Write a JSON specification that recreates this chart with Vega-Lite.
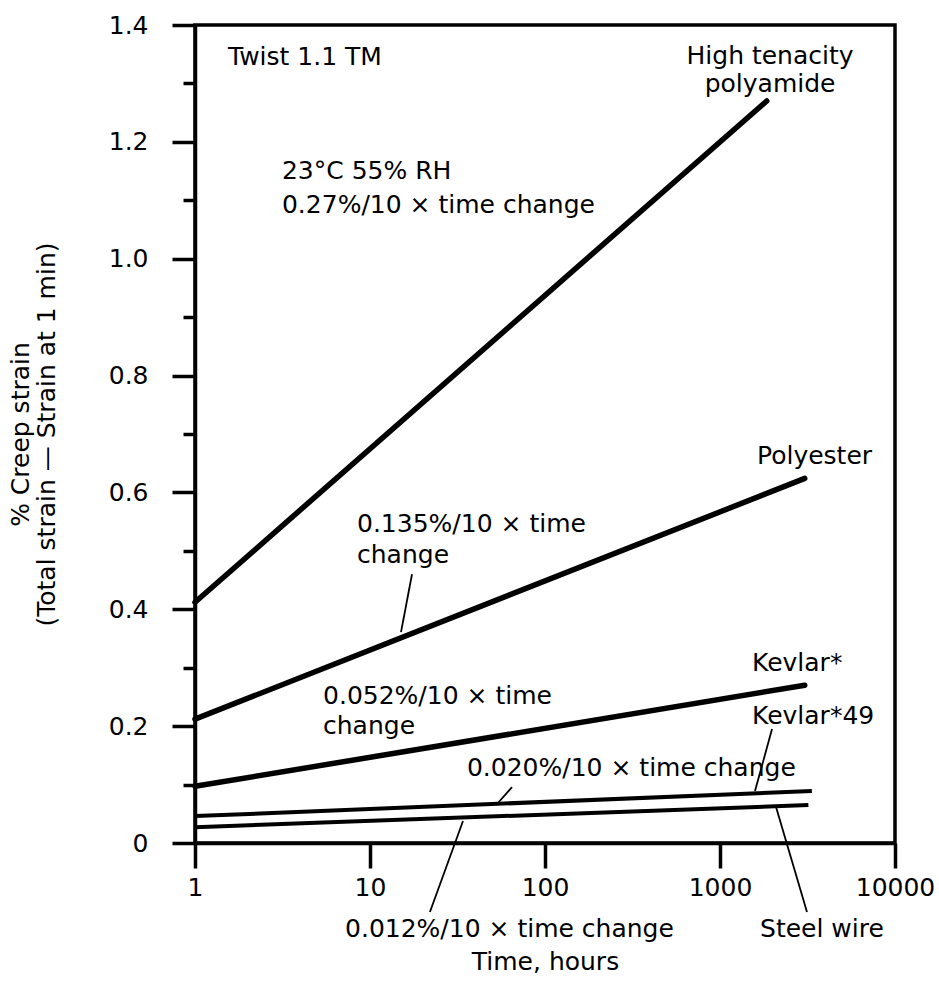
{
  "$schema": "https://vega.github.io/schema/vega-lite/v6.json",
  "width": 700,
  "height": 818,
  "autosize": {"type": "none"},
  "padding": {"left": 195, "top": 25, "right": 44, "bottom": 143},
  "background": "white",
  "config": {
    "view": {"stroke": "black", "strokeWidth": 3.5},
    "font": "DejaVu Sans",
    "axis": {
      "grid": false,
      "domainColor": "black",
      "domainWidth": 3.5,
      "tickColor": "black",
      "tickWidth": 3.5,
      "labelColor": "black",
      "labelFont": "DejaVu Sans",
      "labelFontSize": 25,
      "titleFont": "DejaVu Sans",
      "titleFontSize": 25,
      "titleFontWeight": "normal",
      "titleColor": "black"
    },
    "text": {"font": "DejaVu Sans", "fontSize": 25, "color": "black"}
  },
  "datasets": {
    "thick": [
      {"series": "High tenacity polyamide", "time": 1, "strain": 0.412},
      {"series": "High tenacity polyamide", "time": 1850, "strain": 1.27},
      {"series": "Polyester", "time": 1, "strain": 0.212},
      {"series": "Polyester", "time": 3050, "strain": 0.624},
      {"series": "Kevlar", "time": 1, "strain": 0.097},
      {"series": "Kevlar", "time": 3050, "strain": 0.27}
    ],
    "thin": [
      {"series": "Kevlar 49", "time": 1, "strain": 0.046},
      {"series": "Kevlar 49", "time": 3350, "strain": 0.089},
      {"series": "Steel wire", "time": 1, "strain": 0.027},
      {"series": "Steel wire", "time": 3200, "strain": 0.065}
    ],
    "leaders": [
      {"id": "p135", "time": 17.38, "strain": 0.46},
      {"id": "p135", "time": 15.04, "strain": 0.361},
      {"id": "p020", "time": 64.8, "strain": 0.0957},
      {"id": "p020", "time": 53.2, "strain": 0.0667},
      {"id": "p012", "time": 34.0, "strain": 0.0376},
      {"id": "p012", "time": 22.0, "strain": -0.118},
      {"id": "k49", "time": 1983, "strain": 0.195},
      {"id": "k49", "time": 1585, "strain": 0.0889},
      {"id": "steel", "time": 2090, "strain": 0.0615},
      {"id": "steel", "time": 3141, "strain": -0.118}
    ],
    "leftLabels": [
      {"text": "Twist 1.1 TM", "time": 1.544, "strain": 1.332},
      {"text": "23°C 55% RH", "time": 3.14, "strain": 1.137},
      {"text": "0.27%/10 × time change", "time": 3.14, "strain": 1.079},
      {"text": "0.135%/10 × time", "time": 8.43, "strain": 0.532},
      {"text": "change", "time": 8.43, "strain": 0.48},
      {"text": "0.052%/10 × time", "time": 5.39, "strain": 0.2376},
      {"text": "change", "time": 5.39, "strain": 0.186},
      {"text": "0.020%/10 × time change", "time": 35.8, "strain": 0.1145},
      {"text": "Polyester", "time": 1627, "strain": 0.648},
      {"text": "Kevlar*", "time": 1524, "strain": 0.294},
      {"text": "Kevlar*49", "time": 1524, "strain": 0.203},
      {"text": "Steel wire", "time": 1693, "strain": -0.161},
      {"text": "0.012%/10 × time change", "time": 7.2, "strain": -0.161}
    ],
    "centerLabels": [
      {"text": "High tenacity", "time": 1932, "strain": 1.333},
      {"text": "polyamide", "time": 1932, "strain": 1.285}
    ]
  },
  "encoding": {
    "x": {
      "field": "time",
      "type": "quantitative",
      "scale": {"type": "log", "domain": [1, 10000], "nice": false},
      "axis": {
        "values": [1, 10, 100, 1000, 10000],
        "format": "d",
        "tickSize": 25,
        "labelPadding": 7,
        "labelFlush": false,
        "labelOverlap": false,
        "labelBound": false,
        "title": "Time, hours",
        "titleY": 126,
        "titleBaseline": "alphabetic"
      }
    },
    "y": {
      "field": "strain",
      "type": "quantitative",
      "scale": {"domain": [0, 1.4], "nice": false, "zero": false},
      "axis": {
        "values": [0, 0.1, 0.2, 0.3, 0.4, 0.5, 0.6, 0.7, 0.8, 0.9, 1.0, 1.1, 1.2, 1.3, 1.4],
        "labelExpr": "round(datum.value*10) % 2 == 0 ? (datum.value == 0 ? '0' : format(datum.value, '.1f')) : ''",
        "tickSize": {"condition": {"test": "round(datum.value*10) % 2 == 0", "value": 23}, "value": 12},
        "labelPadding": 24,
        "labelFlush": false,
        "labelOverlap": false,
        "labelBound": false,
        "title": ["% Creep strain", "(Total strain — Strain at 1 min)"],
        "titleX": -167,
        "titleY": 409,
        "titleBaseline": "alphabetic",
        "titleLineHeight": 26,
        "titleAngle": 270
      }
    }
  },
  "layer": [
    {
      "data": {"name": "thick"},
      "mark": {"type": "line", "color": "black", "strokeWidth": 5.5, "strokeCap": "round"},
      "encoding": {"detail": {"field": "series"}}
    },
    {
      "data": {"name": "thin"},
      "mark": {"type": "line", "color": "black", "strokeWidth": 4, "strokeCap": "butt"},
      "encoding": {"detail": {"field": "series"}}
    },
    {
      "data": {"name": "leaders"},
      "mark": {"type": "line", "color": "black", "strokeWidth": 1.8},
      "encoding": {"detail": {"field": "id"}}
    },
    {
      "data": {"name": "leftLabels"},
      "mark": {"type": "text", "align": "left", "baseline": "alphabetic"},
      "encoding": {"text": {"field": "text"}}
    },
    {
      "data": {"name": "centerLabels"},
      "mark": {"type": "text", "align": "center", "baseline": "alphabetic"},
      "encoding": {"text": {"field": "text"}}
    }
  ]
}
